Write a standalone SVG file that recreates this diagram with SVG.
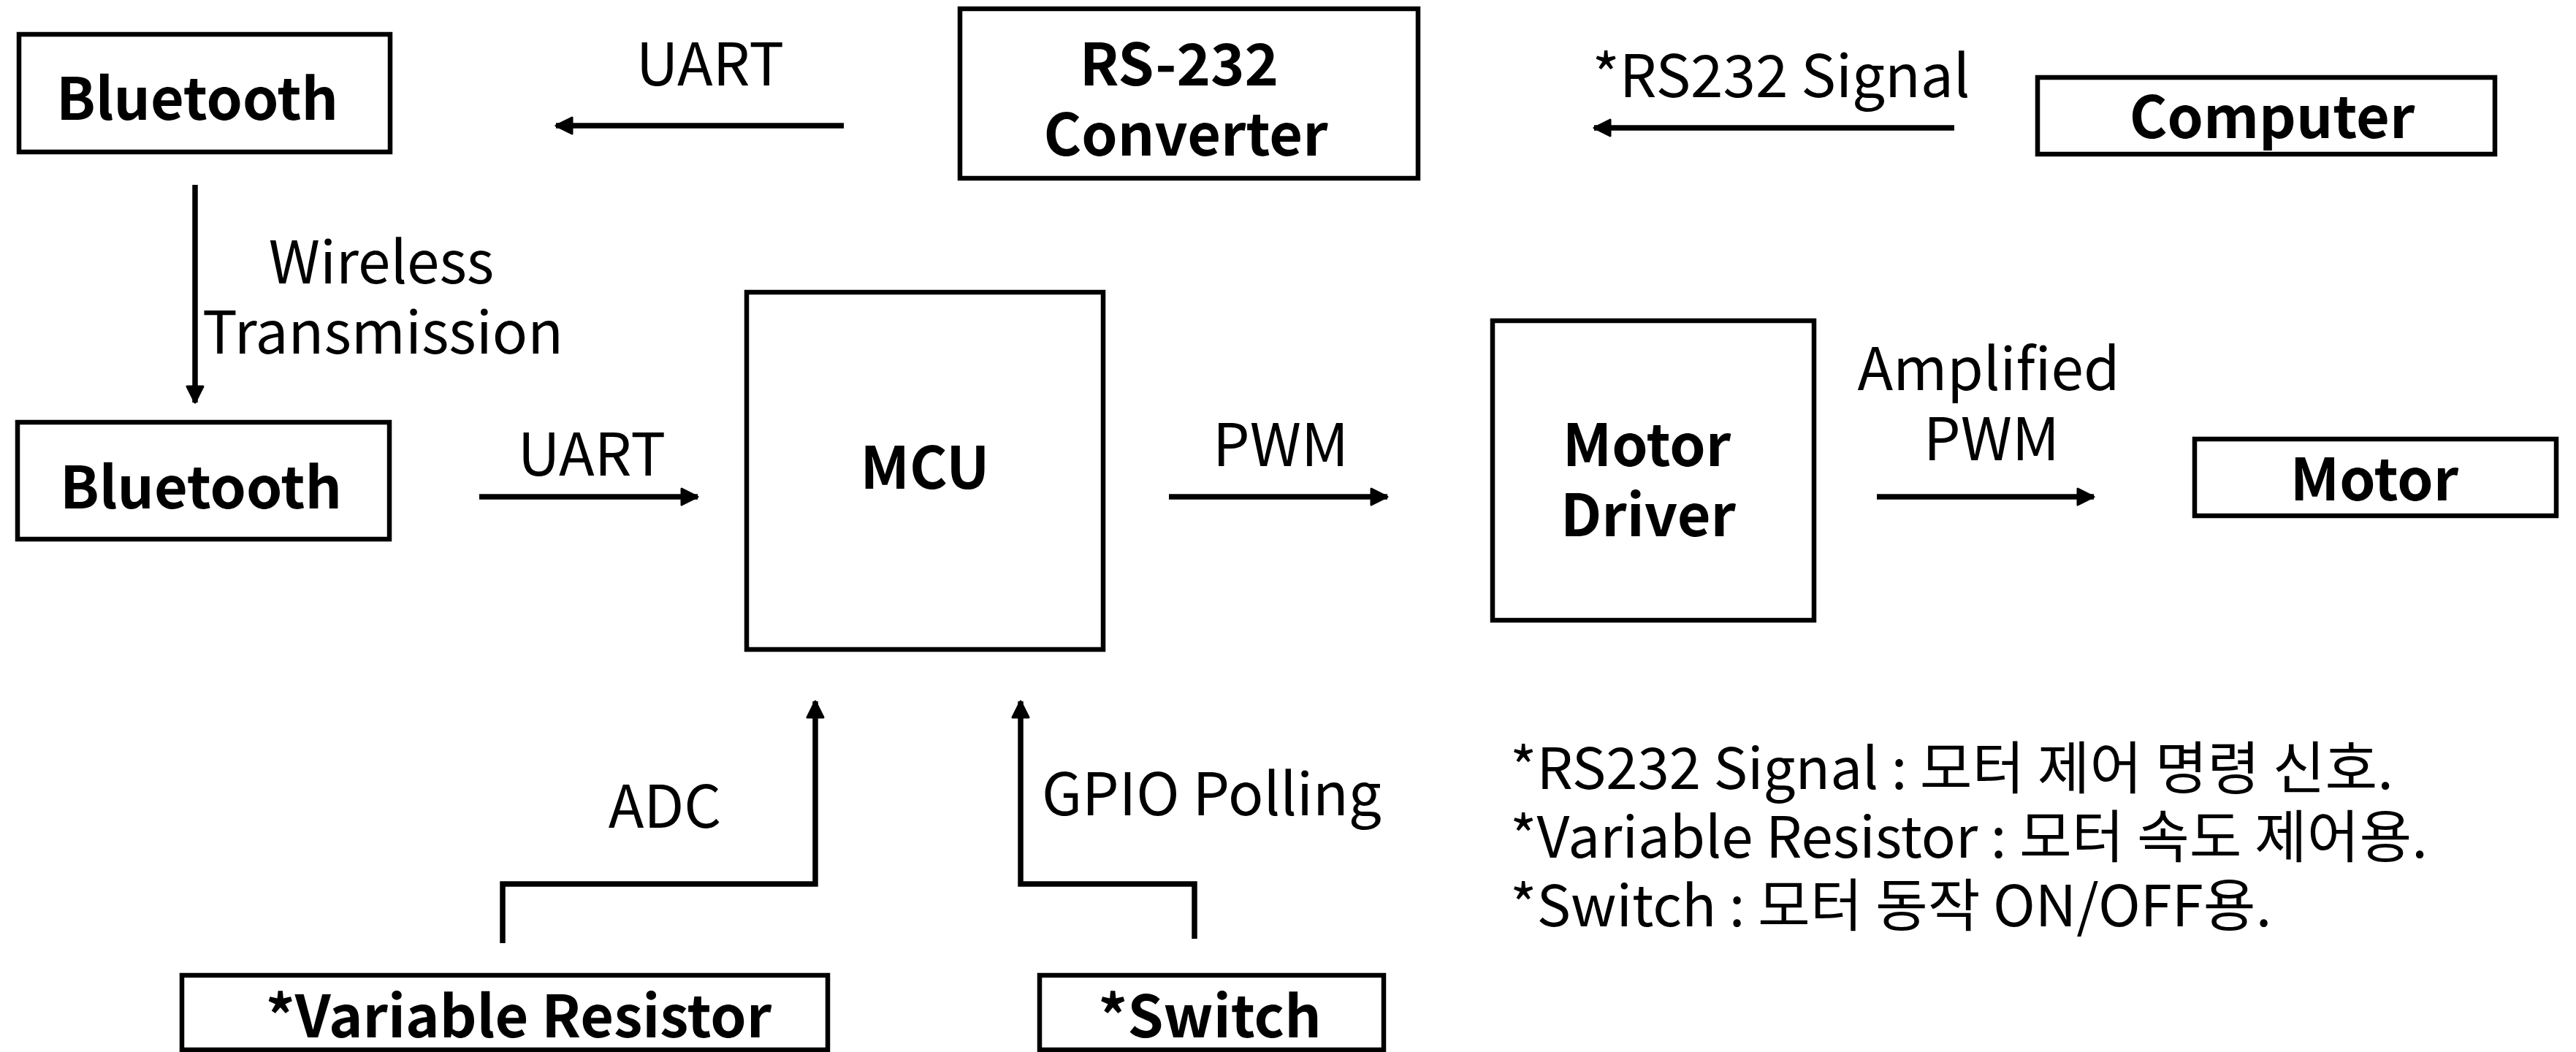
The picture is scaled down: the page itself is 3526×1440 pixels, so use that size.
<svg xmlns="http://www.w3.org/2000/svg" width="3526" height="1440" viewBox="0 0 3526 1440">
  <style>
    .box { fill: #ffffff; stroke: #000000; stroke-width: 6.5; }
    .name { font-family: "Noto Sans CJK KR", "Noto Sans", sans-serif; font-weight: 700; font-size: 79px; fill: #000000; text-anchor: middle; }
    .lbl { font-family: "Noto Sans CJK KR", "Noto Sans", sans-serif; font-weight: 400; font-size: 80px; fill: #000000; text-anchor: middle; }
    .note { font-family: "Noto Sans CJK KR", "Noto Sans", sans-serif; font-weight: 400; font-size: 78px; fill: #000000; }
    .wire { fill: none; stroke: #000000; stroke-width: 7.5; marker-end: url(#head); }
  </style>
  <defs>
    <marker id="head" markerUnits="userSpaceOnUse" viewBox="0 0 28 28" markerWidth="28" markerHeight="28" refX="25" refY="14" orient="auto">
      <path d="M3,3 L25,14 L3,25 Z" fill="#000000" stroke="#000000" stroke-width="3" stroke-linejoin="round"/>
    </marker>
  </defs>

  <rect width="3526" height="1440" fill="#ffffff"/>

  <!-- signal paths -->
  <g id="connectors">
    <line class="wire" x1="1155" y1="172" x2="761" y2="172"/>
    <text class="lbl" x="972" y="117">UART</text>

    <line class="wire" x1="2675" y1="175" x2="2182" y2="175"/>
    <text class="lbl" x="2438" y="133">*RS232 Signal</text>

    <line class="wire" x1="267" y1="253" x2="267" y2="551"/>
    <text class="lbl" x="522" y="388">Wireless</text>
    <text class="lbl" x="524" y="484">Transmission</text>

    <line class="wire" x1="656" y1="680" x2="955" y2="680"/>
    <text class="lbl" x="810" y="651">UART</text>

    <line class="wire" x1="1600" y1="680" x2="1899" y2="680"/>
    <text class="lbl" x="1753" y="638">PWM</text>

    <line class="wire" x1="2569" y1="680" x2="2866" y2="680"/>
    <text class="lbl" x="2722" y="534">Amplified</text>
    <text class="lbl" x="2726" y="630">PWM</text>

    <polyline class="wire" points="688,1291 688,1210 1116,1210 1116,960"/>
    <text class="lbl" x="910" y="1133">ADC</text>

    <polyline class="wire" points="1635,1285 1635,1210 1397,1210 1397,960"/>
    <text class="lbl" x="1426" y="1116" style="text-anchor:start">GPIO Polling</text>
  </g>

  <g id="bluetooth-top">
    <rect class="box" x="26" y="47" width="508" height="161"/>
    <text class="name" x="270" y="164">Bluetooth</text>
  </g>

  <g id="rs232-converter">
    <rect class="box" x="1314" y="12" width="627" height="232"/>
    <text class="name" x="1614" y="117">RS-232</text>
    <text class="name" x="1623" y="213">Converter</text>
  </g>

  <g id="computer">
    <rect class="box" x="2789" y="106" width="626" height="105"/>
    <text class="name" x="3110" y="189">Computer</text>
  </g>

  <g id="bluetooth-bottom">
    <rect class="box" x="24" y="578" width="509" height="160"/>
    <text class="name" x="275" y="696">Bluetooth</text>
  </g>

  <g id="mcu">
    <rect class="box" x="1022" y="400" width="488" height="489"/>
    <text class="name" x="1266" y="669">MCU</text>
  </g>

  <g id="motor-driver">
    <rect class="box" x="2043" y="439" width="440" height="410"/>
    <text class="name" x="2254" y="638">Motor</text>
    <text class="name" x="2256" y="734">Driver</text>
  </g>

  <g id="motor">
    <rect class="box" x="3004" y="601" width="495" height="105"/>
    <text class="name" x="3250" y="685">Motor</text>
  </g>

  <g id="variable-resistor">
    <rect class="box" x="249" y="1335" width="884" height="102"/>
    <text class="name" x="710" y="1420">*Variable Resistor</text>
  </g>

  <g id="switch">
    <rect class="box" x="1423" y="1335" width="471" height="102"/>
    <text class="name" x="1656" y="1420">*Switch</text>
  </g>

  <!-- legend notes -->
  <g id="notes">
    <text class="note" x="2067" y="1080">*RS232 Signal : 모터 제어 명령 신호.</text>
    <text class="note" x="2067" y="1174">*Variable Resistor : 모터 속도 제어용.</text>
    <text class="note" x="2067" y="1268">*Switch : 모터 동작 ON/OFF용.</text>
  </g>
</svg>
